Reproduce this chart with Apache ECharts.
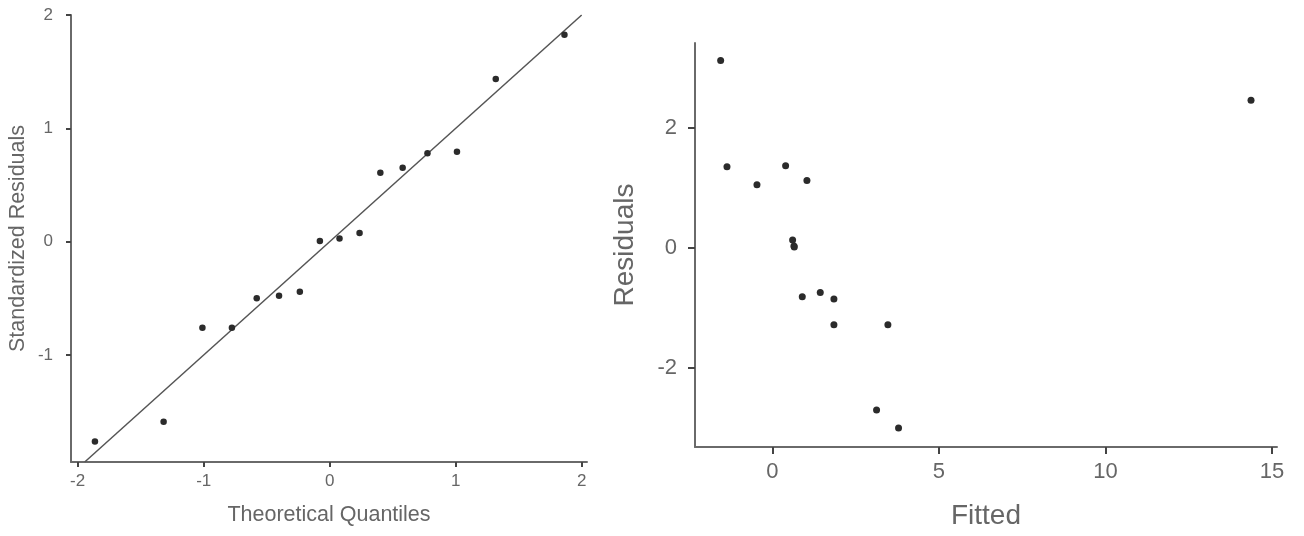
<!DOCTYPE html>
<html>
<head>
<meta charset="utf-8">
<script src="https://cdn.jsdelivr.net/npm/echarts@6/dist/echarts.min.js"></script>
<style>
  html, body { margin: 0; padding: 0; background: #fff; }
  #chart { width: 1304px; height: 536px; }
</style>
</head>
<body>
<div id="chart"></div>
<script>
// Q-Q plot: theoretical normal quantiles vs. standardized residuals
const theoreticalQuantiles = [-1.863, -1.318, -1.010, -0.776, -0.579, -0.402, -0.237, -0.078,
                               0.078, 0.237, 0.402, 0.579, 0.776, 1.010, 1.318, 1.863];
const standardizedResiduals = [-1.764, -1.588, -0.760, -0.760, -0.500, -0.478, -0.442, 0.006,
                                0.029, 0.077, 0.608, 0.652, 0.781, 0.793, 1.436, 1.826];

// Residuals vs. fitted values
const fittedValues = [-1.55, -1.36, -0.46, 0.40, 1.04, 0.61, 0.65, 0.66,
                      0.90, 1.44, 1.85, 1.85, 3.47, 3.13, 3.79, 14.37];
const residualValues = [3.123, 1.350, 1.050, 1.367, 1.123, 0.128, 0.028, 0.010,
                        -0.817, -0.750, -0.855, -1.288, -1.288, -2.710, -3.010, 2.460];

const qqTicks = [-2, -1, 0, 1, 2];
const fittedTicks = [0, 5, 10, 15];
const residualTicks = [-2, 0, 2];

// axis extents
const qqX = [-2.053, 2.042];
const qqY = [-1.944, 2];
const fitX = [-2.32, 15.15];
const fitY = [-3.327, 3.417];

// y = x reference line across the Q-Q panel
const qqLine = [[qqY[0], qqY[0]], [qqY[1], qqY[1]]];

const axisGrey = '#6a6a6a';
const textGrey = '#666';
const font = 'Liberation Sans, Arial, sans-serif';

function valueAxis(opts) {
  return {
    type: 'value',
    gridIndex: opts.grid,
    min: opts.range[0],
    max: opts.range[1],
    splitLine: { show: false },
    axisLine: { show: true, onZero: false, lineStyle: { color: axisGrey, width: 2 } },
    axisTick: { show: true, length: opts.tickLen, customValues: opts.ticks,
                lineStyle: { color: '#444', width: 2 } },
    axisLabel: { customValues: opts.ticks, color: textGrey, fontSize: opts.labelSize,
                 fontFamily: font, margin: opts.labelMargin },
    name: opts.name,
    nameLocation: 'middle',
    nameGap: opts.nameGap,
    nameTextStyle: { color: textGrey, fontSize: opts.nameSize, fontFamily: font }
  };
}

const chart = echarts.init(document.getElementById('chart'), null, { renderer: 'canvas' });

chart.setOption({
  animation: false,
  backgroundColor: '#fff',
  grid: [
    { left: 71, top: 15, width: 516, height: 447 },
    { left: 695, top: 43, width: 582, height: 404 }
  ],
  xAxis: [
    valueAxis({ grid: 0, range: qqX, ticks: qqTicks, tickLen: 5, labelSize: 17, labelMargin: 11,
                name: 'Theoretical Quantiles', nameGap: 42, nameSize: 21.5 }),
    valueAxis({ grid: 1, range: fitX, ticks: fittedTicks, tickLen: 7, labelSize: 22, labelMargin: 14,
                name: 'Fitted', nameGap: 55, nameSize: 28 })
  ],
  yAxis: [
    valueAxis({ grid: 0, range: qqY, ticks: qqTicks, tickLen: 5, labelSize: 17, labelMargin: 18,
                name: 'Standardized Residuals', nameGap: 42, nameSize: 21.5 }),
    valueAxis({ grid: 1, range: fitY, ticks: residualTicks, tickLen: 7, labelSize: 22, labelMargin: 18,
                name: 'Residuals', nameGap: 56, nameSize: 28 })
  ],
  series: [
    {
      type: 'line',
      xAxisIndex: 0, yAxisIndex: 0,
      data: qqLine,
      symbol: 'none',
      lineStyle: { color: '#555', width: 1.5 },
      silent: true,
      z: 1
    },
    {
      type: 'scatter',
      xAxisIndex: 0, yAxisIndex: 0,
      data: theoreticalQuantiles.map((q, i) => [q, standardizedResiduals[i]]),
      symbolSize: 6.5,
      itemStyle: { color: '#2b2b2b', opacity: 1 },
      z: 3
    },
    {
      type: 'scatter',
      xAxisIndex: 1, yAxisIndex: 1,
      data: fittedValues.map((f, i) => [f, residualValues[i]]),
      symbolSize: 7,
      itemStyle: { color: '#2b2b2b', opacity: 1 },
      z: 3
    }
  ]
});
</script>
</body>
</html>
